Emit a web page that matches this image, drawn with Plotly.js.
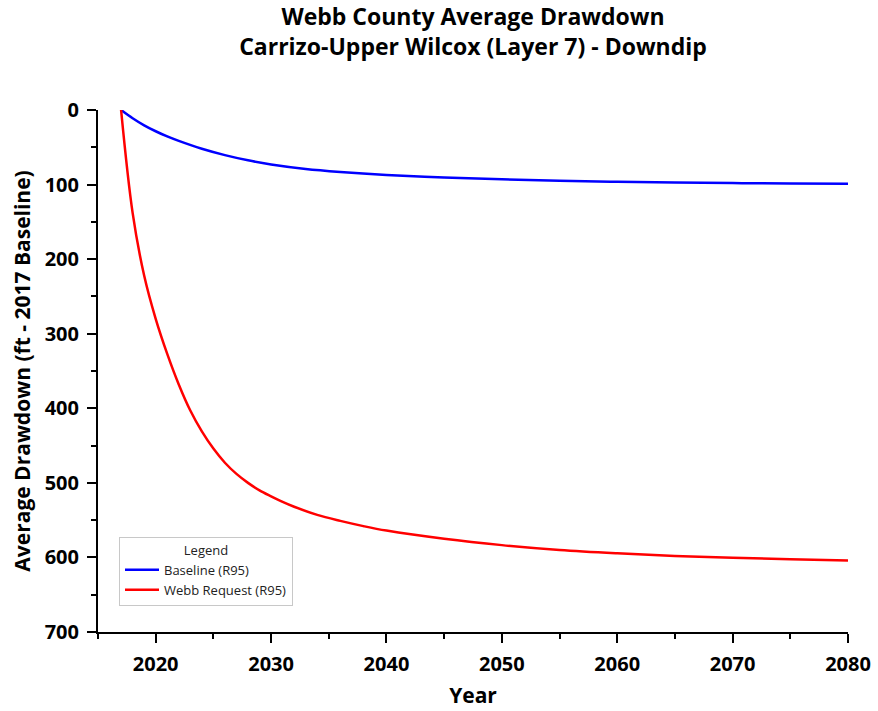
<!DOCTYPE html>
<html>
<head>
<meta charset="utf-8">
<script src="https://cdn.plot.ly/plotly-3.0.1.min.js"></script>
<style>html,body{margin:0;padding:0;background:#fff;}#chart{width:878px;height:711px;}</style>
</head>
<body>
<div id="chart"></div>
<script>
const baselineYears = [2017, 2018, 2019, 2020, 2021, 2022, 2024, 2026, 2028, 2030, 2033, 2036, 2040, 2045, 2050, 2055, 2060, 2065, 2070, 2075, 2080];
const baselineValues = [0, 11, 20.5, 28.5, 35.5, 41.5, 52, 60.5, 67.5, 73, 79, 83, 87, 90.5, 93, 95, 96.3, 97.3, 98, 98.6, 99];
const requestYears = [2017, 2018, 2019, 2020, 2021, 2022, 2023, 2024, 2025, 2026, 2027, 2028, 2029, 2030, 2031, 2032, 2034, 2036, 2038, 2040, 2045, 2050, 2055, 2060, 2065, 2070, 2075, 2080];
const requestValues = [0, 138, 222, 280, 327, 368, 403, 431, 454, 473, 488, 500, 510, 518, 525.5, 532, 543, 551, 558, 564, 575, 583.5, 590, 594.5, 598, 600.5, 602.5, 604];
const seriesNames = ["Baseline (R95)", "Webb Request (R95)"];
const yTickVals = [0, 100, 200, 300, 400, 500, 600, 700];

const boldFont = {family: "'Open Sans', sans-serif", weight: 700, color: '#000'};

const traces = [
  {x: baselineYears, y: baselineValues, name: seriesNames[0], mode: 'lines',
   line: {color: '#0000ff', width: 2.5, shape: 'spline', smoothing: 1}},
  {x: requestYears, y: requestValues, name: seriesNames[1], mode: 'lines',
   line: {color: '#ff0000', width: 2.5, shape: 'spline', smoothing: 1}}
];

const layout = {
  width: 878, height: 711,
  margin: {l: 98, r: 30, t: 110, b: 79},
  paper_bgcolor: '#fff', plot_bgcolor: '#fff',
  title: {text: 'Webb County Average Drawdown<br>Carrizo-Upper Wilcox (Layer 7) - Downdip',
          x: 0.5, xref: 'paper', xanchor: 'center', y: 0.965, yref: 'container', yanchor: 'top',
          font: Object.assign({size: 23}, boldFont)},
  xaxis: {
    range: [2015, 2080], tick0: 2020, dtick: 10, showgrid: false, zeroline: false,
    showline: true, linecolor: '#000', linewidth: 2,
    ticks: 'outside', ticklen: 9, tickwidth: 2, tickcolor: '#000', ticklabelstandoff: 4,
    minor: {dtick: 5, tick0: 2015, ticks: 'outside', ticklen: 5, tickwidth: 2, tickcolor: '#000', showgrid: false},
    tickfont: Object.assign({size: 20}, boldFont),
    title: {text: 'Year', font: Object.assign({size: 21}, boldFont), standoff: 12}
  },
  yaxis: {
    range: [700, 0], tickvals: yTickVals, showgrid: false, zeroline: false,
    showline: true, linecolor: '#000', linewidth: 2,
    ticks: 'outside', ticklen: 9, tickwidth: 2, tickcolor: '#000', ticklabelstandoff: 4,
    minor: {dtick: 50, tick0: 0, ticks: 'outside', ticklen: 5, tickwidth: 2, tickcolor: '#000', showgrid: false},
    tickfont: Object.assign({size: 20}, boldFont),
    title: {text: 'Average Drawdown (ft - 2017 Baseline)', font: Object.assign({size: 21}, boldFont), standoff: 8}
  },
  showlegend: true,
  legend: {
    x: 0.028, y: 0.182, xanchor: 'left', yanchor: 'top',
    bordercolor: '#c8c8c8', borderwidth: 1, bgcolor: '#fff',
    title: {text: 'Legend', side: 'top center', font: {family: "'Open Sans', sans-serif", size: 13, color: '#222'}},
    font: {family: "'Open Sans', sans-serif", size: 13, color: '#222'},
    itemwidth: 34, tracegroupgap: 0
  }
};

Plotly.newPlot('chart', traces, layout, {displayModeBar: false, staticPlot: true});
</script>
</body>
</html>
